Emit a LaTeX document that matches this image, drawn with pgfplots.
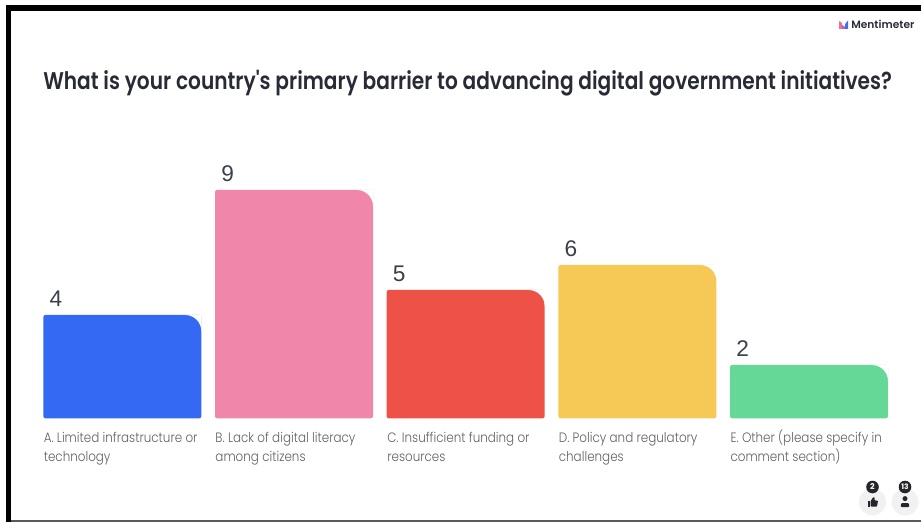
\documentclass[border=0pt]{standalone}
\usepackage{pgfplots}
\pgfplotsset{compat=1.18}
\usepackage{graphicx}
\usepackage{fontspec}
\setmainfont{Poppins}
\newfontfamily\numfont{Liberation Sans}
\newfontfamily\headfont{Poppins SemiBold}
\newfontfamily\captionfont{Poppins Light}
\definecolor{bara}{HTML}{3369F3}
\definecolor{barb}{HTML}{F086A9}
\definecolor{barc}{HTML}{EE5246}
\definecolor{bard}{HTML}{F6C855}
\definecolor{bare}{HTML}{65D898}
\definecolor{labelgrey}{HTML}{5F6063}
\definecolor{titleink}{HTML}{282B36}
\definecolor{numink}{HTML}{3A3F4A}
\definecolor{chip}{HTML}{F1F1F2}
\definecolor{badge}{HTML}{24262C}
\definecolor{logoa}{HTML}{F0708A}
\definecolor{logob}{HTML}{B060C0}
\definecolor{logoc}{HTML}{3A6FF0}

% White wedge that turns a square top-right corner into a rounded one
\pgfdeclareplotmark{roundtr}{%
  \pgfpathmoveto{\pgfqpoint{0.3pt}{0.3pt}}%
  \pgfpathlineto{\pgfqpoint{-12pt}{0.3pt}}%
  \pgfpathlineto{\pgfqpoint{-12pt}{0pt}}%
  \pgfpathcurveto{\pgfqpoint{-5.4pt}{0pt}}{\pgfqpoint{0pt}{-5.4pt}}{\pgfqpoint{0pt}{-12pt}}%
  \pgfpathlineto{\pgfqpoint{0.3pt}{-12pt}}%
  \pgfpathclose\pgfusepathqfill}

% One bar: colour, left edge, right edge, votes
\newcommand{\votebar}[4]{%
  \addplot[fill=#1,draw=none,rounded corners=1.5pt] coordinates {(#2,-0.13) (#2,#4) (#3,#4) (#3,-0.13)} -- cycle;
  \addplot[only marks,mark=roundtr,mark options={fill=white,draw=none}] coordinates {(#3,#4)};
  \node[anchor=base west,inner sep=0pt,text=numink,font=\numfont\fontsize{17}{17}\selectfont]
    at (axis cs:#2+6,#4+0.34) {#4};
}
% One line of a category caption, slightly tall like the slide's typeface
\newcommand{\capline}[3]{%
  \node[anchor=base west,inner sep=0pt,text=labelgrey] at (#1,#2)
    {\scalebox{1}[1.14]{\captionfont\fontsize{8.95}{10}\selectfont #3}};
}

\begin{document}
\begin{tikzpicture}
\path (0,0) rectangle (690.75pt,391.5pt);
\begin{axis}[
  at={(0,0)},anchor=south west,
  scale only axis,width=690.75pt,height=391.5pt,
  xmin=0,xmax=921,ymin=-4.28,ymax=16.6,
  hide axis,clip=false]
\votebar{bara}{43.3}{201.3}{4}
\votebar{barb}{215}{373}{9}
\votebar{barc}{386.7}{544.7}{5}
\votebar{bard}{558.4}{716.4}{6}
\votebar{bare}{730}{888}{2}
\end{axis}

\begin{scope}[shift={(0,391.5pt)},x=0.75pt,y=-0.75pt]
  % slide frame
  \fill[black] (6,5) rectangle (921,11);
  \fill[black] (6,5) rectangle (11,522);
  \fill[black!65] (11,519.7) rectangle (921,522);

  % heading
  \node[anchor=base west,inner sep=0pt,text=titleink]
    at (43,90) {\scalebox{1}[1.2]{\resizebox{636.5pt}{!}{\headfont\fontsize{15.5}{18}\selectfont What is your country\char"0027 s primary barrier to advancing digital government initiatives?}}};

  % brand mark
  \fill[logoa] (839,21) -- (842,23) -- (842,29) -- (839,29) -- cycle;
  \fill[logob] (842.2,25) -- (845,27) -- (845,29) -- (842.2,29) -- cycle;
  \fill[logoc] (845.2,24) -- (848,20.5) -- (848,29) -- (845.2,29) -- cycle;
  \node[anchor=base west,inner sep=0pt,text=titleink,font=\headfont\fontsize{8}{10}\selectfont]
    at (851,29) {Mentimeter};

  % category captions
  \capline{43.5}{442}{A. Limited infrastructure or}
  \capline{43.5}{461}{technology}
  \capline{215.2}{442}{B. Lack of digital literacy}
  \capline{215.2}{461}{among citizens}
  \capline{387}{442}{C. Insufficient funding or}
  \capline{387}{461}{resources}
  \capline{558.6}{442}{D. Policy and regulatory}
  \capline{558.6}{461}{challenges}
  \capline{730.3}{442}{E. Other (please specify in}
  \capline{730.3}{461}{comment section)}

  % reaction and participant chips
  \fill[chip] (872.5,502) circle (13.5);
  \fill[chip] (905,502) circle (13.5);
  \fill[badge] (872.5,487) circle (6.3);
  \fill[badge] (905,487) circle (6.3);
  \node[text=white,inner sep=0pt,font=\bfseries\fontsize{6}{6}\selectfont] at (872.5,487) {2};
  \node[text=white,inner sep=0pt,font=\bfseries\fontsize{5.6}{6}\selectfont] at (905,487) {13};
  % thumb
  \fill[badge] (867.5,501) rectangle (869.8,506.5);
  \fill[badge,rounded corners=0.5] (870.6,501) -- (873.3,497) -- (874.8,497.6) -- (874.4,500.4) -- (878,500.6) -- (877,506.5) -- (870.6,506.5) -- cycle;
  % person
  \fill[badge] (905,498.6) circle (2.5);
  \fill[badge,rounded corners=0.7] (900.6,507) -- (901.2,503) -- (908.8,503) -- (909.4,507) -- cycle;
\end{scope}
\end{tikzpicture}
\end{document}
